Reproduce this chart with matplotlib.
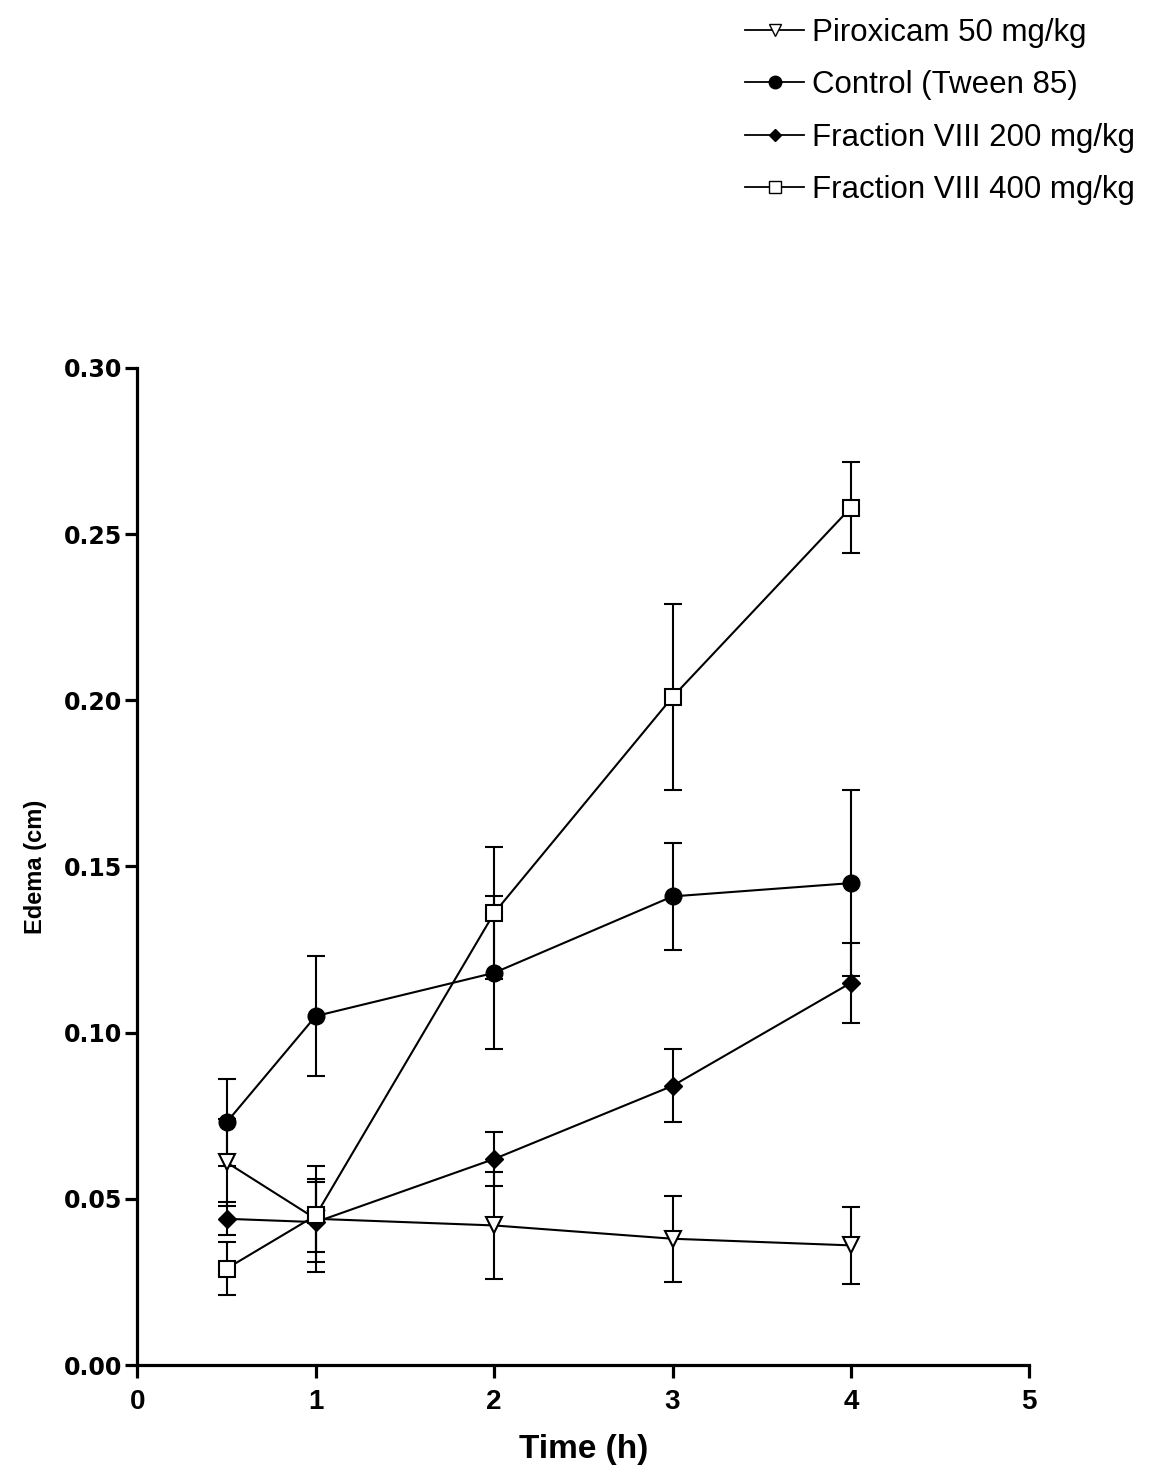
import matplotlib.pyplot as plt
import numpy as np
from matplotlib.lines import Line2D
from matplotlib.ticker import FormatStrFormatter

# time points (h)
time_h = [0.5, 1, 2, 3, 4]

# edema means and error (cm)
piroxicam = [0.061, 0.044, 0.042, 0.038, 0.036]
piroxicam_err = [0.013, 0.016, 0.016, 0.013, 0.0115]

control = [0.073, 0.105, 0.118, 0.141, 0.145]
control_err = [0.013, 0.018, 0.023, 0.016, 0.028]

frac200 = [0.044, 0.043, 0.062, 0.084, 0.115]
frac200_err = [0.005, 0.012, 0.008, 0.011, 0.012]

frac400 = [0.029, 0.045, 0.136, 0.201, 0.258]
frac400_err = [0.008, 0.011, 0.020, 0.028, 0.0137]

labels = ['Piroxicam 50 mg/kg', 'Control (Tween 85)',
          'Fraction VIII 200 mg/kg', 'Fraction VIII 400 mg/kg']


def main():
	plt.rcParams['font.family'] = ['Liberation Sans', 'DejaVu Sans']

	fig = plt.figure(figsize=(11.54, 14.70), dpi=100)
	ax = fig.add_axes([0.119, 0.0714, 0.773, 0.6783])

	common = dict(color='black', lw=1.5, elinewidth=1.5, capsize=6.5, capthick=1.5)

	ax.errorbar(time_h, piroxicam, yerr=piroxicam_err, marker='v', ms=12,
	            mfc='white', mec='black', mew=1.5, zorder=5, **common)
	ax.errorbar(time_h, control, yerr=control_err, marker='o', ms=12,
	            mfc='black', mec='black', zorder=4, **common)
	ax.errorbar(time_h, frac200, yerr=frac200_err, marker='D', ms=9,
	            mfc='black', mec='black', zorder=3, **common)
	ax.errorbar(time_h, frac400, yerr=frac400_err, marker='s', ms=12,
	            mfc='white', mec='black', mew=1.5, zorder=6, **common)

	ax.set_xlim(0, 5)
	ax.set_ylim(0, 0.30)
	ax.set_xticks(np.arange(0, 6, 1))
	ax.set_yticks(np.arange(0, 0.31, 0.05))
	ax.yaxis.set_major_formatter(FormatStrFormatter('%.2f'))

	for side in ['top', 'right']:
		ax.spines[side].set_visible(False)
	for side in ['left', 'bottom']:
		ax.spines[side].set_linewidth(2.3)
	ax.tick_params(axis='both', direction='out', width=2.3, length=9, pad=2)
	ax.tick_params(axis='x', pad=8)
	for lab in ax.get_xticklabels():
		lab.set_fontsize(20)
		lab.set_fontweight('bold')
	for lab in ax.get_yticklabels():
		lab.set_fontsize(17)
		lab.set_fontweight('bold')
		lab.set_family('DejaVu Sans')

	ax.set_xlabel('Time (h)', fontsize=24, fontweight='bold', labelpad=14)
	ax.set_ylabel('Edema (cm)', fontsize=17, fontweight='bold', labelpad=12)

	handles = [
		Line2D([], [], color='black', lw=1.3, marker='v', ms=9, mfc='white', mec='black'),
		Line2D([], [], color='black', lw=1.3, marker='o', ms=9, mfc='black'),
		Line2D([], [], color='black', lw=1.3, marker='D', ms=6, mfc='black'),
		Line2D([], [], color='black', lw=1.3, marker='s', ms=9, mfc='white', mec='black'),
	]
	fig.legend(handles, labels, loc='upper left', bbox_to_anchor=(0.6456, 0.988),
	           frameon=False, fontsize=22.5, handlelength=1.9, handletextpad=0.25,
	           labelspacing=0.72, borderpad=0, borderaxespad=0)

	fig.savefig('out.png', dpi=100)


if __name__ == '__main__':
	main()
